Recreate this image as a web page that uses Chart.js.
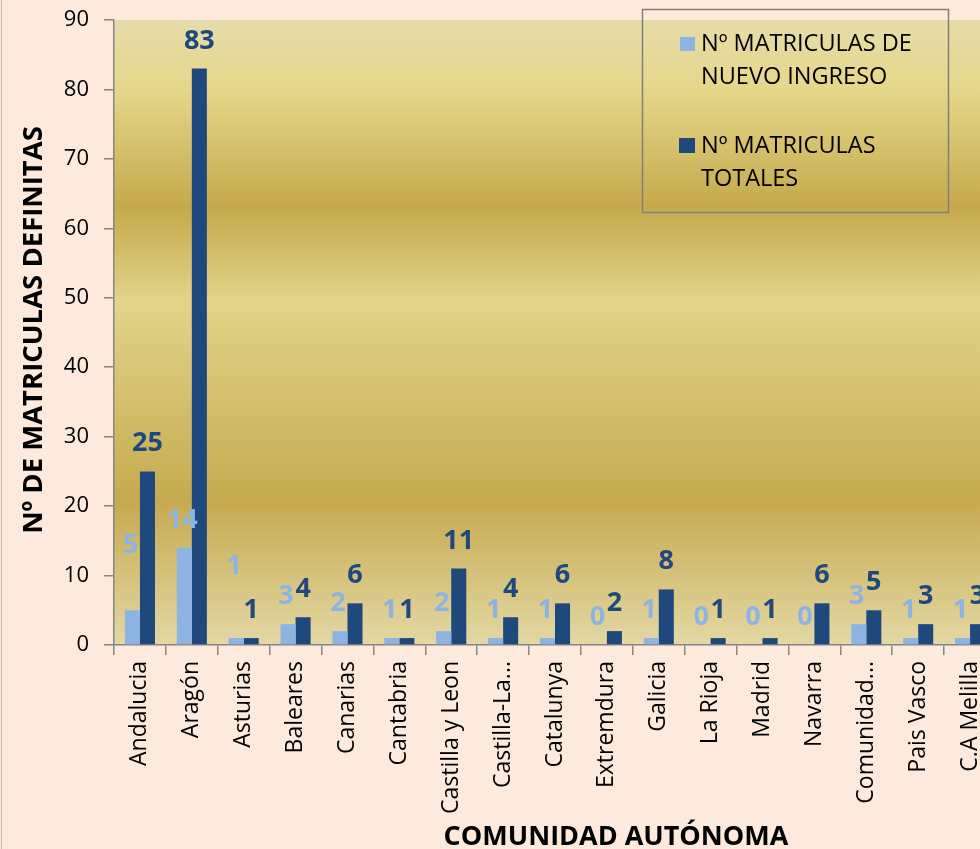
<!DOCTYPE html>
<html>
<head>
<meta charset="utf-8">
<script src="https://cdn.jsdelivr.net/npm/chart.js@4"></script>
<style>
html,body{margin:0;padding:0;background:#fdeadd;overflow:hidden;width:980px;height:849px;}
#wrap{position:absolute;left:0;top:0;width:996px;height:849px;}
</style>
</head>
<body>
<div id="wrap"><canvas id="c" width="996" height="849"></canvas></div>
<script>
const categories = ["Andalucia","Aragón","Asturias","Baleares","Canarias","Cantabria","Castilla y Leon","Castilla-La...","Catalunya","Extremdura","Galicia","La Rioja","Madrid","Navarra","Comunidad...","Pais Vasco","C.A Melilla"];
const nuevoIngreso = [5,14,1,3,2,1,2,1,1,0,1,0,0,0,3,1,1];
const totales = [25,83,1,4,6,1,11,4,6,2,8,1,1,6,5,3,3];
const seriesNames = ["Nº MATRICULAS DE NUEVO INGRESO","Nº MATRICULAS TOTALES"];
const legendLines = [["Nº MATRICULAS DE","NUEVO INGRESO"],["Nº MATRICULAS","TOTALES"]];
const yTitle = "Nº DE MATRICULAS DEFINITAS";
const xTitle = "COMUNIDAD AUTÓNOMA";

const LIGHT = "#8db3e2", DARK = "#1f497d";
const FONT = "'Open Sans', Lato, sans-serif";

const decor = {
  id: 'decor',
  beforeDraw(chart) {
    const {ctx, chartArea: a} = chart;
    ctx.save();
    ctx.fillStyle = '#fdeadd';
    ctx.fillRect(0,0,chart.width,chart.height);
    const g = ctx.createLinearGradient(0,a.top,0,a.bottom);
    g.addColorStop(0,'#e6dcaa');
    g.addColorStop(0.11,'#e5d78a');
    g.addColorStop(0.30,'#c5a94c');
    g.addColorStop(0.45,'#e2d48a');
    g.addColorStop(0.77,'#c6aa50');
    g.addColorStop(1,'#e3d8a4');
    ctx.fillStyle = g;
    ctx.fillRect(a.left,a.top,a.right-a.left,a.bottom-a.top);
    ctx.strokeStyle = '#c9b8a8';
    ctx.lineWidth = 1;
    ctx.beginPath(); ctx.moveTo(1.5,0); ctx.lineTo(1.5,chart.height); ctx.stroke();
    ctx.restore();
  },
  afterDatasetsDraw(chart, args, opts) {
    const {ctx} = chart;
    ctx.save();
    ctx.font = "bold 27px " + FONT;
    ctx.textAlign = 'center';
    ctx.textBaseline = 'alphabetic';
    chart.data.datasets.forEach((ds, di) => {
      const meta = chart.getDatasetMeta(di);
      meta.data.forEach((bar, i) => {
        const extra = (di === 0 && opts.extraLift[i]) ? opts.extraLift[i] : 0;
        ctx.fillStyle = di === 0 ? LIGHT : DARK;
        const x = di === 0 ? bar.x - 2 : bar.x;
        ctx.fillText(String(ds.data[i]), x, bar.y - 20 - extra);
      });
    });
    ctx.restore();
  },
  afterDraw(chart) {
    const {ctx} = chart;
    ctx.save();
    ctx.strokeStyle = '#7f7f7f';
    ctx.lineWidth = 1.5;
    ctx.strokeRect(642.5, 9.5, 306, 203);
    const cols = [LIGHT, DARK];
    const base = [51, 153];
    const sq = [[680, 37, 15, 14], [679, 138, 16, 15]];
    ctx.font = "23.5px " + FONT;
    ctx.textAlign = 'left';
    ctx.textBaseline = 'alphabetic';
    legendLines.forEach((lines, k) => {
      ctx.fillStyle = cols[k];
      ctx.fillRect(sq[k][0], sq[k][1], sq[k][2], sq[k][3]);
      ctx.fillStyle = '#000';
      lines.forEach((t, j) => ctx.fillText(t, 701, base[k] + j*33));
    });
    ctx.font = "bold 27.5px " + FONT;
    ctx.textAlign = 'center';
    ctx.translate(42, 330);
    ctx.rotate(-Math.PI/2);
    ctx.fillText(yTitle, 0, 0);
    ctx.restore();
    ctx.save();
    ctx.font = "bold 27px " + FONT;
    ctx.textAlign = 'center';
    ctx.textBaseline = 'alphabetic';
    ctx.fillStyle = '#000';
    ctx.fillText(xTitle, 616, 845);
    ctx.restore();
  }
};

new Chart(document.getElementById('c'), {
  type: 'bar',
  data: {
    labels: categories,
    datasets: [
      {label: seriesNames[0], data: nuevoIngreso, backgroundColor: LIGHT, borderWidth: 0},
      {label: seriesNames[1], data: totales, backgroundColor: DARK, borderWidth: 0}
    ]
  },
  options: {
    responsive: false,
    animation: false,
    layout: {padding: {top: 20, left: 0, right: 0, bottom: 0}},
    categoryPercentage: 0.58,
    barPercentage: 1,
    plugins: {
      legend: {display: false},
      tooltip: {enabled: false},
      decor: {extraLift: {0: 37, 2: 44}}
    },
    scales: {
      x: {
        grid: {drawOnChartArea: false, color: '#868686', tickLength: 10, lineWidth: 1.5},
        border: {color: '#868686', width: 1.5},
        ticks: {minRotation: 90, maxRotation: 90, autoSkip: false, color: '#000', padding: 6, font: {family: FONT, size: 23}},
        afterFit: s => { s.height = 204; s.paddingLeft = 0; s.paddingRight = 0; }
      },
      y: {
        min: 0, max: 90,
        grid: {drawOnChartArea: false, color: '#868686', tickLength: 10, lineWidth: 1.5},
        border: {color: '#868686', width: 1.5},
        ticks: {stepSize: 10, color: '#000', padding: 15, font: {family: FONT, size: 22}},
        afterFit: s => { s.width = 114; s.paddingTop = 0; s.paddingBottom = 0; }
      }
    }
  },
  plugins: [decor]
});
</script>
</body>
</html>
